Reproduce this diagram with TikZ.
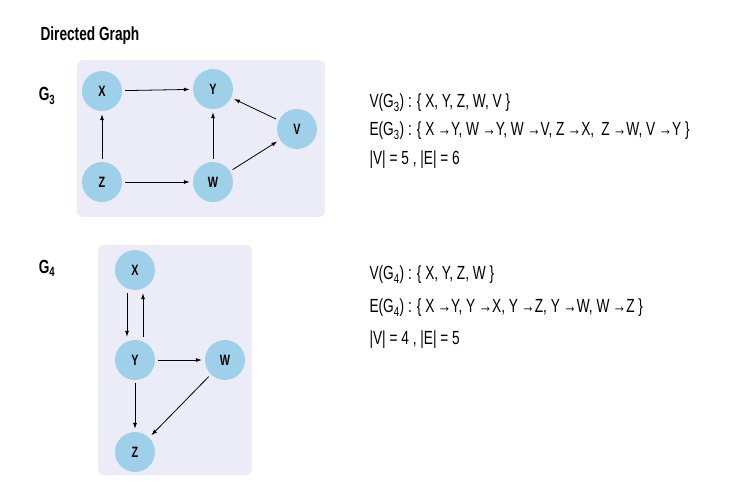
\documentclass[tikz,border=0pt]{standalone}
\usepackage{fontspec}
\setmainfont{Liberation Sans}[FakeStretch=0.72]
\usetikzlibrary{arrows.meta}
\definecolor{boxc}{HTML}{ECECF8}
\definecolor{nodec}{HTML}{9FD0EA}
\begin{document}
\begin{tikzpicture}[x=1pt,y=-1pt,
  vx/.style={circle,fill=nodec,minimum size=40pt,inner sep=0pt,font=\fontsize{15}{15}\selectfont\bfseries},
  bx/.style={fill=boxc,rounded corners=6pt},
  ed/.style={-{Latex[length=6pt,width=4pt]},line width=0.8pt,shorten >=3pt,shorten <=3pt},
  lab/.style={anchor=west,font=\fontsize{19}{19}\selectfont},
  gl/.style={font=\fontsize{19}{19}\selectfont\bfseries}]
\useasboundingbox (0,0) rectangle (740,491);
\node[anchor=west,font=\fontsize{19}{19}\selectfont\bfseries] (title) at (37,36) {Directed Graph};
% G3
\node[gl] (g3) at (47,96) {G\textsubscript{3}};
\fill[bx] (77,60) rectangle (325,217);
\node[vx] (x3) at (102,91) {X};
\node[vx] (y3) at (213,89) {Y};
\node[vx] (v3) at (297,129) {V};
\node[vx] (z3) at (102,182) {Z};
\node[vx] (w3) at (213,182) {W};
\draw[ed] (x3) -- (y3);
\draw[ed] (z3) -- (x3);
\draw[ed] (z3) -- (w3);
\draw[ed] (w3) -- (y3);
\draw[ed] (w3) -- (v3);
\draw[ed] (v3) -- (y3);
\node[lab] (t31) at (366,103) {V(G\textsubscript{3}) : \{ X, Y, Z, W, V \}};
\node[lab] (t32) at (366,131) {E(G\textsubscript{3}) : \{ X\,→Y, W\,→Y, W\,→V, Z\,→X,\, Z\,→W, V\,→Y \}};
\node[lab] (t33) at (366,160) {|V| = 5 , |E| = 6};
% G4
\node[gl] (g4) at (47,268) {G\textsubscript{4}};
\fill[bx] (98,245) rectangle (252,475);
\node[vx] (x4) at (135,270) {X};
\node[vx] (y4) at (135,360) {Y};
\node[vx] (w4) at (225,360) {W};
\node[vx] (z4) at (135,452) {Z};
\draw[ed] ([xshift=-8pt]x4.south) -- ([xshift=-8pt]y4.north);
\draw[ed] ([xshift=8pt]y4.north) -- ([xshift=8pt]x4.south);
\draw[ed] (y4) -- (z4);
\draw[ed] (y4) -- (w4);
\draw[ed] (w4) -- (z4);
\node[lab] (t41) at (366,275) {V(G\textsubscript{4}) : \{ X, Y, Z, W \}};
\node[lab] (t42) at (366,308) {E(G\textsubscript{4}) : \{ X\,→Y, Y\,→X, Y\,→Z, Y\,→W, W\,→Z \}};
\node[lab] (t43) at (366,340) {|V| = 4 , |E| = 5};
\end{tikzpicture}
\end{document}
